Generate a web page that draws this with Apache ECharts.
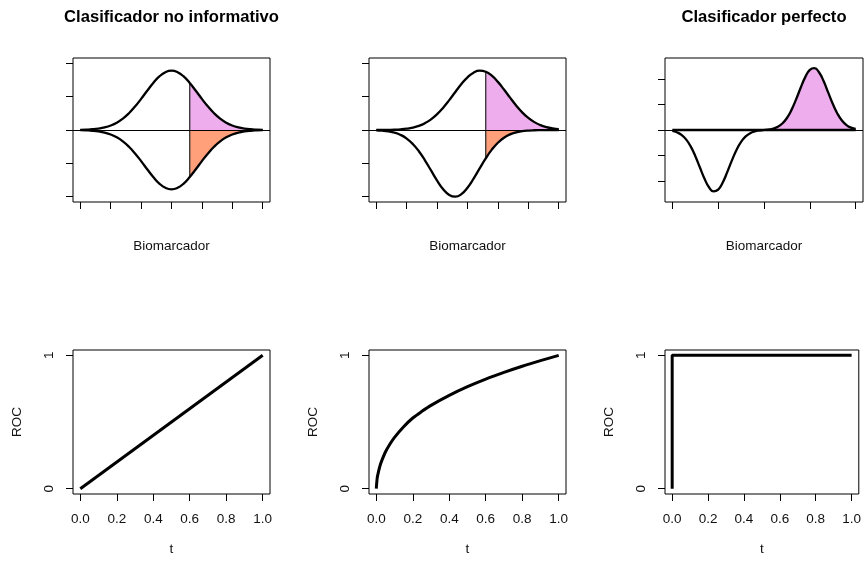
<!DOCTYPE html>
<html><head><meta charset="utf-8">
<script src="https://cdn.jsdelivr.net/npm/echarts@6/dist/echarts.min.js"></script>
<style>html,body{margin:0;padding:0;background:#fff}#c{width:864px;height:561px}</style>
</head><body><div id="c"></div>
<script>
// ---------- data ----------
const titles = ['Clasificador no informativo', '', 'Clasificador perfecto'];
const xNameTop = 'Biomarcador';
const xNameRoc = 't';
const yNameRoc = 'ROC';

// density panels 1 & 2 (x in tick units)
const densX = [-3,-2.8,-2.6,-2.4,-2.2,-2,-1.8,-1.6,-1.4,-1.2,-1,-0.8,-0.6,-0.4,-0.2,0,0.2,0.4,0.6,0.8,1,1.2,1.4,1.6,1.8,2,2.2,2.4,2.6,2.8,3];
const p1Upper = [0.0011,0.0023,0.0045,0.0087,0.0157,0.0270,0.0440,0.0683,0.1005,0.1406,0.1868,0.2356,0.2822,0.3211,0.3469,0.356,0.3469,0.3211,0.2822,0.2356,0.1868,0.1406,0.1005,0.0683,0.0440,0.0270,0.0157,0.0087,0.0045,0.0023,0.0011];
const p1Lower = [-0.0011,-0.0023,-0.0045,-0.0087,-0.0157,-0.0270,-0.0440,-0.0683,-0.1005,-0.1406,-0.1868,-0.2356,-0.2822,-0.3211,-0.3469,-0.356,-0.3469,-0.3211,-0.2822,-0.2356,-0.1868,-0.1406,-0.1005,-0.0683,-0.0440,-0.0270,-0.0157,-0.0087,-0.0045,-0.0023,-0.0011];
const p1Cut = 0.6;
const p2Upper = [0.0002,0.0004,0.0010,0.0020,0.0041,0.0079,0.0144,0.0249,0.0410,0.0641,0.0952,0.1341,0.1795,0.2283,0.2756,0.3160,0.3441,0.3558,0.3494,0.3259,0.2887,0.2428,0.1940,0.1472,0.1060,0.0726,0.0472,0.0291,0.0171,0.0095,0.0050];
const p2Lower = [-0.0017,-0.0038,-0.0081,-0.0160,-0.0296,-0.0514,-0.0836,-0.1274,-0.1817,-0.2426,-0.3034,-0.3552,-0.3895,-0.3999,-0.3844,-0.3460,-0.2917,-0.2302,-0.1701,-0.1177,-0.0763,-0.0463,-0.0263,-0.0140,-0.0070,-0.0033,-0.0014,-0.0006,-0.0002,-0.0001,0];
const p2Cut = 0.6;
// density panel 3
const p3X = [0,0.1,0.2,0.3,0.4,0.5,0.6,0.7,0.8,0.9,1,1.1,1.2,1.3,1.4,1.5,1.6,1.7,1.8,1.9,2,2.1,2.2,2.3,2.4,2.5,2.6,2.7,2.8,2.9,3,3.1,3.2,3.3,3.4,3.5,3.6,3.7,3.8,3.9,4];
const p3Lower = [-0.0192,-0.0450,-0.0955,-0.1837,-0.3205,-0.5071,-0.7278,-0.9474,-1.1185,-1.1976,-1.1631,-1.0244,-0.8183,-0.5929,-0.3896,-0.2322,-0.1255,-0.0615,-0.0274,-0.0110,-0.0040,-0.0013,-0.0004,-0.0001,0,0,0,0,0,0,0,0,0,0,0,0,0,0,0,0,0];
const p3Upper = [0,0,0,0,0,0,0,0,0,0,0,0,0,0,0,0,0,0,0.0004,0.0013,0.0041,0.0111,0.0276,0.0621,0.1266,0.2341,0.3929,0.5979,0.8251,1.0330,1.1727,1.2076,1.1278,0.9553,0.7339,0.5113,0.3232,0.1853,0.0963,0.0454,0.0194];
const p3Cut = 2;

// ROC curves
const roc1T = [0, 1];
const roc1 = [0, 1];
const roc2T = [0,0.005,0.01,0.02,0.03,0.05,0.075,0.1,0.15,0.2,0.25,0.3,0.4,0.5,0.6,0.7,0.8,0.9,1];
const roc2 = [0,0.08,0.115,0.17,0.21,0.275,0.335,0.385,0.465,0.53,0.58,0.625,0.70,0.765,0.822,0.872,0.918,0.96,1];
const roc3T = [0, 0, 1];
const roc3 = [0, 1, 1];

// tick values
const xTicks12 = [-3,-2,-1,0,1,2,3];
const yTicks12 = [-0.4,-0.2,0,0.2,0.4];
const xTicks3 = [0,1,2,3,4];
const yTicks3 = [-1,-0.5,0,0.5,1];
const rocXTicks = [0,0.2,0.4,0.6,0.8,1];
const rocYTicks = [0,1];

// ---------- layout / style ----------
const FONT = '"Liberation Sans", Arial, Helvetica, sans-serif';
const PINK = '#EEAEEE', SALMON = '#FFA07A';
const cols = [{left:73,width:197},{left:369,width:197},{left:665,width:198}];
const topRow = {top:58,height:144};
const botRow = {top:350,height:144};

const chart = echarts.init(document.getElementById('c'), null, {renderer:'canvas'});

const grids = [], xAxes = [], yAxes = [], series = [];
const txt = {fontFamily:FONT, fontSize:13.5, color:'#111'};

function pairs(xs, ys){ return xs.map((x,i)=>[x, ys[i]]); }
function fromCut(xs, ys, c){ return pairs(xs, ys).filter(p=>p[0] >= c - 1e-9); }
function atCut(xs, ys, c){ return ys[xs.findIndex(x=>Math.abs(x-c)<1e-9)]; }

const densPanels = [
  {xs:densX, up:p1Upper, lo:p1Lower, cut:p1Cut, xmin:-3.24, xmax:3.24, ymin:-0.432, ymax:0.432, xt:xTicks12, yt:yTicks12},
  {xs:densX, up:p2Upper, lo:p2Lower, cut:p2Cut, xmin:-3.24, xmax:3.24, ymin:-0.432, ymax:0.432, xt:xTicks12, yt:yTicks12},
  {xs:p3X, up:p3Upper, lo:p3Lower, cut:p3Cut, xmin:-0.16, xmax:4.16, ymin:-1.406, ymax:1.406, xt:xTicks3, yt:yTicks3}
];
const rocPanels = [
  {t:roc1T, r:roc1, smooth:false},
  {t:roc2T, r:roc2, smooth:0.3},
  {t:roc3T, r:roc3, smooth:false}
];

densPanels.forEach((p, i) => {
  const gi = grids.length;
  grids.push({left:cols[i].left, width:cols[i].width, top:topRow.top, height:topRow.height,
    show:true, borderColor:'#000', borderWidth:1, backgroundColor:'transparent', containLabel:false});
  xAxes.push({gridIndex:gi, type:'value', min:p.xmin, max:p.xmax,
    axisLine:{show:false, onZero:false},
    axisTick:{show:true, length:7, lineStyle:{color:'#000', width:1}, customValues:p.xt},
    axisLabel:{show:false}, splitLine:{show:false},
    name:xNameTop, nameLocation:'middle', nameGap:37, nameTextStyle:txt});
  yAxes.push({gridIndex:gi, type:'value', min:p.ymin, max:p.ymax,
    axisLine:{show:false, onZero:false},
    axisTick:{show:true, length:7, lineStyle:{color:'#000', width:1}, customValues:p.yt},
    axisLabel:{show:false}, splitLine:{show:false}});
  // fills
  series.push({type:'line', xAxisIndex:gi, yAxisIndex:gi, data:fromCut(p.xs, p.up, p.cut),
    smooth:true, showSymbol:false, lineStyle:{opacity:0}, areaStyle:{color:PINK, opacity:1}, z:1, silent:true});
  series.push({type:'line', xAxisIndex:gi, yAxisIndex:gi, data:fromCut(p.xs, p.lo, p.cut),
    smooth:true, showSymbol:false, lineStyle:{opacity:0}, areaStyle:{color:SALMON, opacity:1}, z:1, silent:true});
  // cut line
  series.push({type:'line', xAxisIndex:gi, yAxisIndex:gi,
    data:[[p.cut, atCut(p.xs, p.lo, p.cut)], [p.cut, atCut(p.xs, p.up, p.cut)]],
    showSymbol:false, lineStyle:{color:'#222', width:1.2}, z:2, silent:true});
  // curves
  series.push({type:'line', xAxisIndex:gi, yAxisIndex:gi, data:pairs(p.xs, p.up),
    smooth:true, showSymbol:false, lineStyle:{color:'#000', width:2.3}, z:3, silent:true,
    markLine:{silent:true, symbol:['none','none'], data:[{yAxis:0}], label:{show:false},
      lineStyle:{color:'#000', width:1, type:'solid'}, animation:false}});
  series.push({type:'line', xAxisIndex:gi, yAxisIndex:gi, data:pairs(p.xs, p.lo),
    smooth:true, showSymbol:false, lineStyle:{color:'#000', width:2.3}, z:3, silent:true});
});

rocPanels.forEach((p, i) => {
  const gi = grids.length;
  grids.push({left:cols[i].left, width:cols[i].width, top:botRow.top, height:botRow.height,
    show:true, borderColor:'#000', borderWidth:1, backgroundColor:'transparent', containLabel:false});
  xAxes.push({gridIndex:gi, type:'value', min:-0.04, max:1.04,
    axisLine:{show:false, onZero:false},
    axisTick:{show:true, length:7, lineStyle:{color:'#000', width:1}, customValues:rocXTicks},
    axisLabel:{show:true, margin:18, customValues:rocXTicks, formatter:v=>Number(v).toFixed(1), ...txt},
    splitLine:{show:false},
    name:xNameRoc, nameLocation:'middle', nameGap:48, nameTextStyle:txt});
  yAxes.push({gridIndex:gi, type:'value', min:-0.04, max:1.04,
    axisLine:{show:false, onZero:false},
    axisTick:{show:true, length:7, lineStyle:{color:'#000', width:1}, customValues:rocYTicks},
    axisLabel:{show:true, margin:17, rotate:90, customValues:rocYTicks, formatter:v=>String(Math.round(v)), ...txt},
    splitLine:{show:false},
    name:yNameRoc, nameLocation:'middle', nameGap:49, nameTextStyle:txt});
  series.push({type:'line', xAxisIndex:gi, yAxisIndex:gi, data:pairs(p.t, p.r),
    smooth:p.smooth, showSymbol:false, lineStyle:{color:'#000', width:3}, z:3, silent:true});
});

const titleOpts = [];
titles.forEach((t, i) => {
  if (!t) return;
  titleOpts.push({text:t, left:cols[i].left + cols[i].width/2, top:9, textAlign:'center', padding:0,
    textStyle:{fontFamily:FONT, fontSize:16.6, fontWeight:'bold', color:'#000'}});
});

chart.setOption({
  animation:false,
  backgroundColor:'#fff',
  title:titleOpts,
  grid:grids, xAxis:xAxes, yAxis:yAxes, series:series
});
</script></body></html>
